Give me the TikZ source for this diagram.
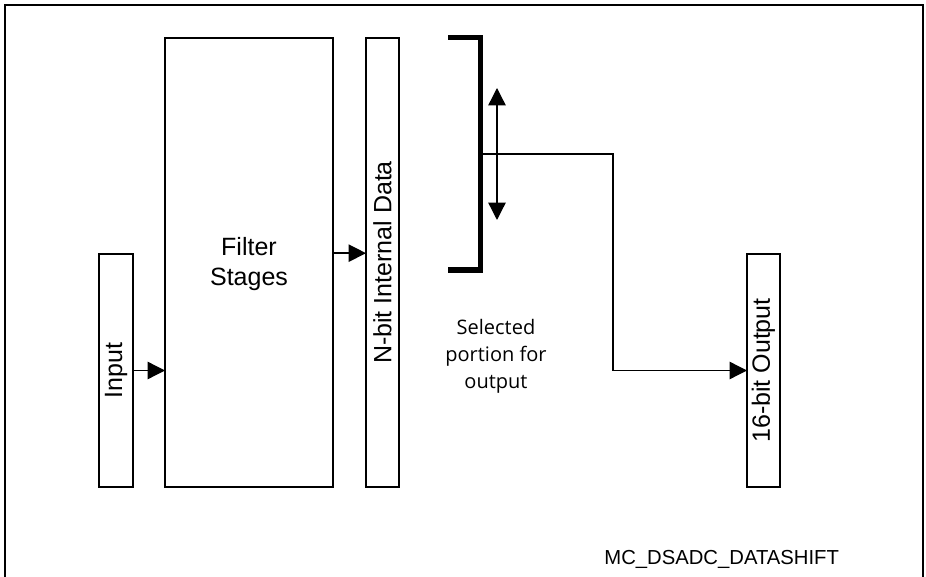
\documentclass[tikz,border=0pt]{standalone}
\usepackage{fontspec}
\setmainfont{Liberation Sans}
\newfontfamily\notefont{Open Sans}
\usetikzlibrary{arrows.meta}

\begin{document}
\begin{tikzpicture}[
  x=0.75pt, y=-0.75pt,
  font=\fontsize{18.75pt}{22.5pt}\selectfont,
  box/.style={draw, line width=1.4pt, inner sep=0pt, outer sep=0pt},
  vlabel/.style={rotate=90, inner sep=0pt},
  arr/.style={-{Triangle[length=13pt, width=13pt]}, line width=1pt},
  darr/.style={{Triangle[length=13pt, width=13pt]}-{Triangle[length=13pt, width=13pt]}, line width=1pt}
]
\useasboundingbox (0,0) rectangle (926,577);
\draw[line width=1.5pt] (5,577) -- (5,5) -- (922.5,5) -- (922.5,577);

% blocks
\node[box, minimum width=25.5pt, minimum height=174.75pt] (input) at (116,370.5) {};
\node[box, minimum width=126pt, minimum height=336.75pt] (filter) at (249,262.5) {};
\node[box, minimum width=24.75pt, minimum height=336.75pt] (nbit) at (382.5,262.5) {};
\node[box, minimum width=24.75pt, minimum height=174.75pt] (output) at (763.5,370.5) {};

\node[vlabel] (inputlbl) at (input) {Input};
\node[align=center] (filterlbl) at (249,264) {Filter\\Stages};
\node[vlabel] (nbitlbl) at (nbit) {N-bit Internal Data};
\node[vlabel] (outputlbl) at (output) {16-bit Output};

\draw[arr] (input.east) -- (input.east -| filter.west);
\draw[arr] ([yshift=7pt]filter.east) -- ([yshift=7pt]nbit.west);

% selection window
\coordinate (brtop) at (448,37.5);
\coordinate (brbot) at (448,270);
\draw[line width=4pt] (brtop) -- (480.5,37.5) -- (480.5,270) -- (brbot);
\coordinate (shiftup) at (497,88);
\coordinate (shiftdn) at (497,220);
\draw[darr] (shiftup) -- (shiftdn);
\coordinate (tap) at (481,154);
\draw[arr] (tap) -- (613,154) |- (output.west);

\node[align=center, font=\notefont\fontsize{15pt}{20.25pt}\selectfont] (selnote) at (496,356) {Selected\\portion for\\output};
\node[anchor=base, font=\fontsize{15.2pt}{18pt}\selectfont] (figid) at (721.7,565) {MC\_DSADC\_DATASHIFT};
\end{tikzpicture}
\end{document}
